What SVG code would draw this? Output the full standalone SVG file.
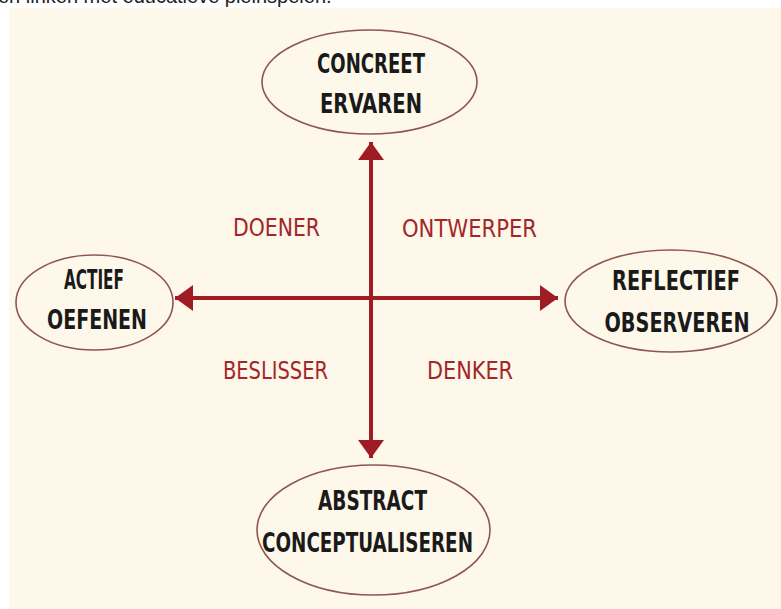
<svg xmlns="http://www.w3.org/2000/svg" width="781" height="609" viewBox="0 0 781 609">
<style>
.node ellipse{fill:none;stroke:#8e5552;stroke-width:1.6}
.nt{font-family:"Liberation Sans Narrow","DejaVu Sans Condensed","Liberation Sans",sans-serif;font-size:27px;font-weight:bold;fill:#1a1a1a;text-anchor:middle}
.lbl{font-family:"Liberation Sans Narrow","DejaVu Sans Condensed","Liberation Sans",sans-serif;font-size:24px;fill:#a3262b;text-anchor:middle}
.conn line{stroke:#a01c24;stroke-width:4}
</style>
<defs>
<marker id="ah" markerUnits="userSpaceOnUse" markerWidth="20" markerHeight="26" refX="18" refY="13" orient="auto-start-reverse">
<path d="M0,0 L18,13 L0,26 z" fill="#a01c24"/>
</marker>
</defs>
<rect x="0" y="0" width="781" height="609" fill="#ffffff"/>
<text x="-2" y="3" font-family="Liberation Sans, sans-serif" font-size="20" fill="#222">en linken met educatieve pleinspelen.</text>
<rect x="9" y="8" width="772" height="601" fill="#fdf8e9"/>
<g class="conn" id="connectors">
<line x1="371" y1="142" x2="371" y2="458" marker-start="url(#ah)" marker-end="url(#ah)"/>
<line x1="175" y1="298" x2="558" y2="298" marker-start="url(#ah)" marker-end="url(#ah)"/>
</g>
<g class="node" id="concreet">
<ellipse cx="369.5" cy="82" rx="107.5" ry="52"/>
<text class="nt" x="371" y="73" textLength="108" lengthAdjust="spacingAndGlyphs">CONCREET</text>
<text class="nt" x="371" y="113" textLength="102" lengthAdjust="spacingAndGlyphs">ERVAREN</text>
</g>
<g class="node" id="actief">
<ellipse cx="94.5" cy="302.5" rx="78.5" ry="47.5"/>
<text class="nt" x="94" y="289" textLength="60" lengthAdjust="spacingAndGlyphs">ACTIEF</text>
<text class="nt" x="97" y="329" textLength="100" lengthAdjust="spacingAndGlyphs">OEFENEN</text>
</g>
<g class="node" id="reflectief">
<ellipse cx="671" cy="301" rx="106" ry="51"/>
<text class="nt" x="676" y="290" textLength="128" lengthAdjust="spacingAndGlyphs">REFLECTIEF</text>
<text class="nt" x="677" y="332" textLength="145" lengthAdjust="spacingAndGlyphs">OBSERVEREN</text>
</g>
<g class="node" id="abstract">
<ellipse cx="373.5" cy="530" rx="116.5" ry="65"/>
<text class="nt" x="372.5" y="510" textLength="109" lengthAdjust="spacingAndGlyphs">ABSTRACT</text>
<text class="nt" x="367.5" y="552" textLength="211" lengthAdjust="spacingAndGlyphs">CONCEPTUALISEREN</text>
</g>
<g id="labels">
<text class="lbl" x="276.5" y="236" textLength="87" lengthAdjust="spacingAndGlyphs">DOENER</text>
<text class="lbl" x="469.5" y="237" textLength="135" lengthAdjust="spacingAndGlyphs">ONTWERPER</text>
<text class="lbl" x="275.5" y="379" textLength="105" lengthAdjust="spacingAndGlyphs">BESLISSER</text>
<text class="lbl" x="470" y="379" textLength="86" lengthAdjust="spacingAndGlyphs">DENKER</text>
</g>
</svg>
